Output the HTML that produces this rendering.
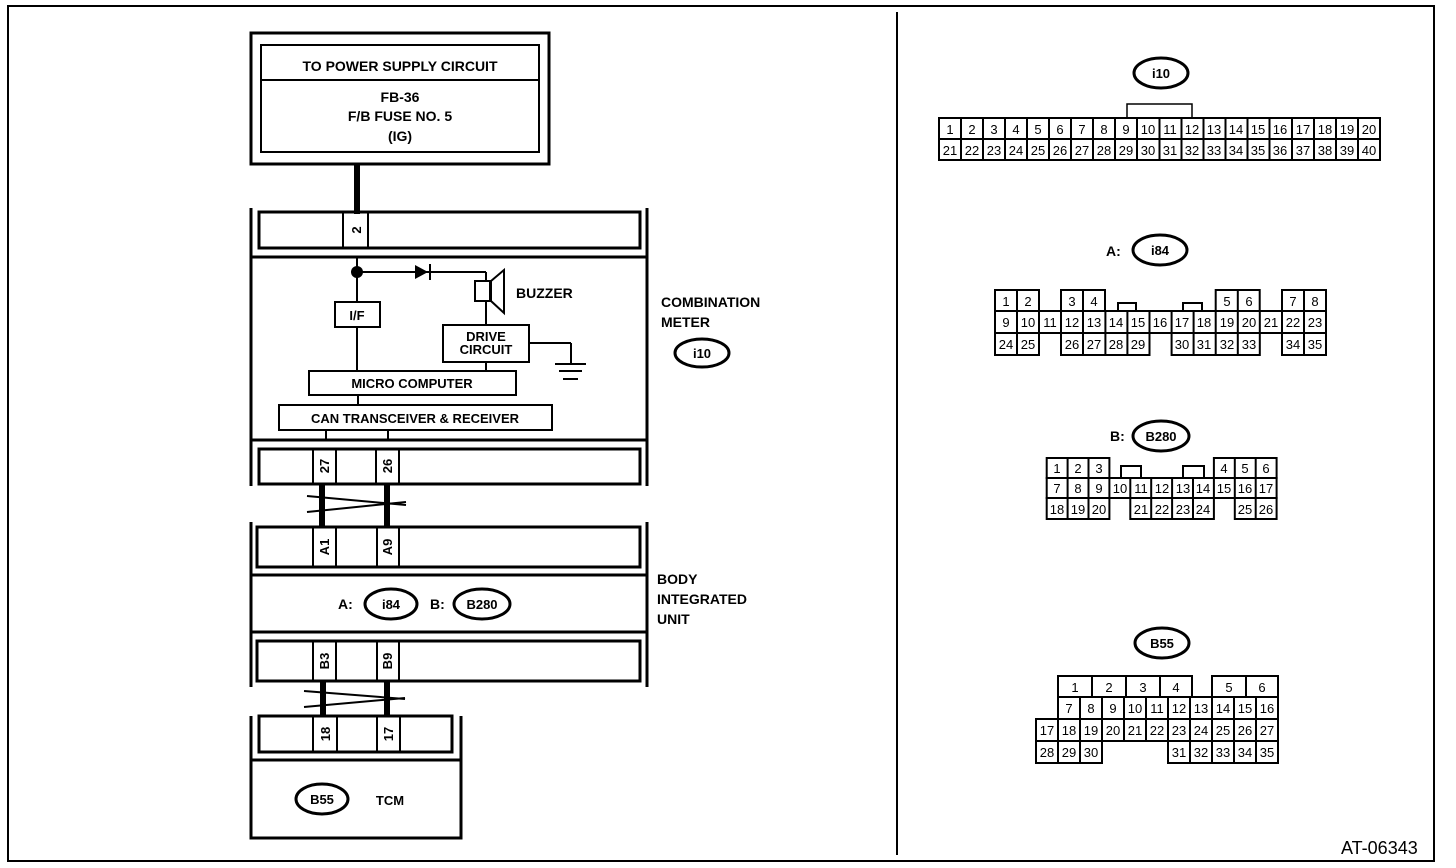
<!DOCTYPE html>
<html><head><meta charset="utf-8"><style>
html,body{margin:0;padding:0;background:#fff;}
svg{display:block;}
text{font-family:"Liberation Sans",sans-serif;fill:#000;}
.b{font-weight:bold;font-size:14px;}
.p{font-size:13px;text-anchor:middle;}
.r{font-weight:bold;font-size:13px;text-anchor:middle;}
</style></head><body>
<svg width="1456" height="868" viewBox="0 0 1456 868" xmlns="http://www.w3.org/2000/svg">
<g fill="none" stroke="#000" stroke-width="2">
<rect x="8" y="6" width="1426" height="855"/>
<line x1="897" y1="12" x2="897" y2="855"/>
<rect x="251" y="33" width="298" height="131" stroke-width="3"/>
<rect x="261" y="45" width="278" height="107"/>
<line x1="261" y1="80" x2="539" y2="80"/>
</g>
<line x1="357" y1="164" x2="357" y2="214" stroke="#000" stroke-width="6"/>
<text x="400" y="71" class="b" text-anchor="middle">TO POWER SUPPLY CIRCUIT</text>
<text x="400" y="102" class="b" text-anchor="middle">FB-36</text>
<text x="400" y="121" class="b" text-anchor="middle">F/B FUSE NO. 5</text>
<text x="400" y="141" class="b" text-anchor="middle">(IG)</text>
<g fill="none" stroke="#000" stroke-width="2">
<line x1="251" y1="208" x2="251" y2="486" stroke-width="3"/>
<line x1="647" y1="208" x2="647" y2="486" stroke-width="3"/>
<rect x="259" y="212" width="381" height="36" stroke-width="3"/>
<line x1="343" y1="212" x2="343" y2="248"/><line x1="368" y1="212" x2="368" y2="248"/>
<line x1="251" y1="257" x2="647" y2="257" stroke-width="3"/>
<line x1="357" y1="257" x2="357" y2="302"/>
<line x1="357" y1="327" x2="357" y2="371"/>
<line x1="357" y1="272" x2="486" y2="272"/>
<line x1="486" y1="272" x2="486" y2="281"/>
<line x1="486" y1="301" x2="486" y2="325"/>
<rect x="475" y="281" width="15" height="20"/>
<polygon points="491,281 504,270 504,313 491,301"/>
<line x1="430" y1="264" x2="430" y2="280"/>
<rect x="335" y="302" width="45" height="25"/>
<rect x="443" y="325" width="86" height="37"/>
<line x1="486" y1="362" x2="486" y2="371"/>
<line x1="529" y1="343" x2="571" y2="343"/>
<line x1="571" y1="343" x2="571" y2="364"/>
<line x1="555" y1="364" x2="586" y2="364"/>
<line x1="559" y1="371" x2="582" y2="371"/>
<line x1="563" y1="379" x2="578" y2="379"/>
<rect x="309" y="371" width="207" height="24"/>
<line x1="358" y1="395" x2="358" y2="405"/>
<rect x="279" y="405" width="273" height="25"/>
<line x1="326" y1="430" x2="326" y2="440"/><line x1="388" y1="430" x2="388" y2="440"/>
<line x1="251" y1="440" x2="647" y2="440" stroke-width="3"/>
<rect x="259" y="449" width="381" height="35" stroke-width="3"/>
<line x1="313" y1="449" x2="313" y2="484"/><line x1="336" y1="449" x2="336" y2="484"/>
<line x1="376" y1="449" x2="376" y2="484"/><line x1="399" y1="449" x2="399" y2="484"/>
</g>
<circle cx="357" cy="272" r="6" fill="#000"/>
<polygon points="415,265 415,279 428,272" fill="#000"/>
<text x="516" y="298" class="b">BUZZER</text>
<text x="357" y="320" class="r" font-size="14">I/F</text>
<text x="486" y="341" class="r" font-size="11">DRIVE</text>
<text x="486" y="354" class="r" font-size="11">CIRCUIT</text>
<text x="412" y="388" class="r" font-size="14">MICRO COMPUTER</text>
<text x="415" y="423" class="r" font-size="14">CAN TRANSCEIVER &amp; RECEIVER</text>
<text class="r" transform="translate(361,230) rotate(-90)">2</text>
<text class="r" transform="translate(329,466) rotate(-90)">27</text>
<text class="r" transform="translate(392,466) rotate(-90)">26</text>
<text x="661" y="307" class="b">COMBINATION</text>
<text x="661" y="327" class="b">METER</text>
<ellipse cx="702" cy="353" rx="27" ry="14" fill="none" stroke="#000" stroke-width="3"/>
<text x="702" y="358" class="r" font-size="14">i10</text>
<g stroke="#000">
<line x1="322" y1="484" x2="322" y2="528" stroke-width="6"/>
<line x1="387" y1="484" x2="387" y2="528" stroke-width="6"/>
<line x1="307" y1="496" x2="406" y2="505" stroke-width="2"/>
<line x1="307" y1="512" x2="406" y2="502" stroke-width="2"/>
</g>
<g fill="none" stroke="#000" stroke-width="2">
<line x1="251" y1="522" x2="251" y2="687" stroke-width="3"/>
<line x1="647" y1="522" x2="647" y2="687" stroke-width="3"/>
<rect x="257" y="527" width="383" height="40" stroke-width="3"/>
<line x1="313" y1="527" x2="313" y2="567"/><line x1="336" y1="527" x2="336" y2="567"/>
<line x1="377" y1="527" x2="377" y2="567"/><line x1="399" y1="527" x2="399" y2="567"/>
<line x1="251" y1="575" x2="647" y2="575" stroke-width="3"/>
<line x1="251" y1="632" x2="647" y2="632" stroke-width="3"/>
<rect x="257" y="641" width="383" height="40" stroke-width="3"/>
<line x1="313" y1="641" x2="313" y2="681"/><line x1="336" y1="641" x2="336" y2="681"/>
<line x1="377" y1="641" x2="377" y2="681"/><line x1="399" y1="641" x2="399" y2="681"/>
<ellipse cx="391" cy="604" rx="26" ry="15" stroke-width="3"/>
<ellipse cx="482" cy="604" rx="28" ry="15" stroke-width="3"/>
</g>
<text class="r" transform="translate(329,547) rotate(-90)">A1</text>
<text class="r" transform="translate(392,547) rotate(-90)">A9</text>
<text class="r" transform="translate(329,661) rotate(-90)">B3</text>
<text class="r" transform="translate(392,661) rotate(-90)">B9</text>
<text x="338" y="609" class="b">A:</text>
<text x="391" y="609" class="r" font-size="14">i84</text>
<text x="430" y="609" class="b">B:</text>
<text x="482" y="609" class="r" font-size="14">B280</text>
<text x="657" y="584" class="b">BODY</text>
<text x="657" y="604" class="b">INTEGRATED</text>
<text x="657" y="624" class="b">UNIT</text>
<g stroke="#000">
<line x1="323" y1="681" x2="323" y2="716" stroke-width="6"/>
<line x1="387" y1="681" x2="387" y2="716" stroke-width="6"/>
<line x1="304" y1="691" x2="405" y2="699" stroke-width="2"/>
<line x1="304" y1="707" x2="405" y2="698" stroke-width="2"/>
</g>
<g fill="none" stroke="#000" stroke-width="2">
<polyline points="251,716 251,838 461,838 461,716" stroke-width="3"/>
<rect x="259" y="716" width="193" height="36" stroke-width="3"/>
<line x1="313" y1="716" x2="313" y2="752"/><line x1="337" y1="716" x2="337" y2="752"/>
<line x1="377" y1="716" x2="377" y2="752"/><line x1="400" y1="716" x2="400" y2="752"/>
<line x1="251" y1="760" x2="461" y2="760" stroke-width="3"/>
<ellipse cx="322" cy="799" rx="26" ry="15" stroke-width="3"/>
</g>
<text class="r" transform="translate(330,734) rotate(-90)">18</text>
<text class="r" transform="translate(393,734) rotate(-90)">17</text>
<text x="322" y="804" class="r" font-size="14">B55</text>
<text x="390" y="805" class="r" font-size="14">TCM</text>

<ellipse cx="1161" cy="73" rx="27" ry="15" fill="none" stroke="#000" stroke-width="3"/>
<text x="1161" y="78" class="r" font-size="14">i10</text>
<g fill="none" stroke="#000" stroke-width="2">
<polyline points="1127,118 1127,104 1192,104 1192,118" stroke-width="1.5"/>
<rect x="939" y="118" width="441" height="42"/>
<line x1="939" y1="139" x2="1380" y2="139"/>
<path d="M961 118V160M983 118V160M1005 118V160M1027 118V160M1049 118V160M1071 118V160M1093 118V160M1115 118V160M1137 118V160M1159.5 118V160M1181.5 118V160M1203.5 118V160M1225.5 118V160M1247.5 118V160M1269.5 118V160M1292 118V160M1314 118V160M1336 118V160M1358 118V160"/>
</g>
<g>
<text x="950" y="134" class="p">1</text><text x="972" y="134" class="p">2</text><text x="994" y="134" class="p">3</text><text x="1016" y="134" class="p">4</text><text x="1038" y="134" class="p">5</text><text x="1060" y="134" class="p">6</text><text x="1082" y="134" class="p">7</text><text x="1104" y="134" class="p">8</text><text x="1126" y="134" class="p">9</text><text x="1148" y="134" class="p">10</text><text x="1170" y="134" class="p">11</text><text x="1192" y="134" class="p">12</text><text x="1214" y="134" class="p">13</text><text x="1236" y="134" class="p">14</text><text x="1258" y="134" class="p">15</text><text x="1280" y="134" class="p">16</text><text x="1303" y="134" class="p">17</text><text x="1325" y="134" class="p">18</text><text x="1347" y="134" class="p">19</text><text x="1369" y="134" class="p">20</text>
<text x="950" y="155" class="p">21</text><text x="972" y="155" class="p">22</text><text x="994" y="155" class="p">23</text><text x="1016" y="155" class="p">24</text><text x="1038" y="155" class="p">25</text><text x="1060" y="155" class="p">26</text><text x="1082" y="155" class="p">27</text><text x="1104" y="155" class="p">28</text><text x="1126" y="155" class="p">29</text><text x="1148" y="155" class="p">30</text><text x="1170" y="155" class="p">31</text><text x="1192" y="155" class="p">32</text><text x="1214" y="155" class="p">33</text><text x="1236" y="155" class="p">34</text><text x="1258" y="155" class="p">35</text><text x="1280" y="155" class="p">36</text><text x="1303" y="155" class="p">37</text><text x="1325" y="155" class="p">38</text><text x="1347" y="155" class="p">39</text><text x="1369" y="155" class="p">40</text>
</g>

<text x="1106" y="256" class="b">A:</text>
<ellipse cx="1160" cy="250" rx="27" ry="15" fill="none" stroke="#000" stroke-width="3"/>
<text x="1160" y="255" class="r" font-size="14">i84</text>
<g fill="none" stroke="#000" stroke-width="2">
<rect x="995" y="290" width="44" height="21"/>
<line x1="1017" y1="290" x2="1017" y2="311"/>
<rect x="1061" y="290" width="44" height="21"/>
<line x1="1083" y1="290" x2="1083" y2="311"/>
<rect x="1215.7" y="290" width="44" height="21"/>
<line x1="1237.8" y1="290" x2="1237.8" y2="311"/>
<rect x="1282" y="290" width="44" height="21"/>
<line x1="1304" y1="290" x2="1304" y2="311"/>
<rect x="1118" y="303" width="18" height="8"/>
<rect x="1183" y="303" width="19" height="8"/>
<rect x="995" y="311" width="331" height="22"/>
<path d="M1017 311V333M1039 311V333M1061 311V333M1083 311V333M1105.4 311V333M1127.4 311V333M1149.5 311V333M1171.6 311V333M1193.6 311V333M1215.7 311V333M1237.8 311V333M1259.8 311V333M1282 311V333M1304 311V333"/>
<rect x="995" y="333" width="44" height="22"/><line x1="1017" y1="333" x2="1017" y2="355"/>
<rect x="1061" y="333" width="88.5" height="22"/><path d="M1083 333V355M1105.4 333V355M1127.4 333V355"/>
<rect x="1171.6" y="333" width="88.2" height="22"/><path d="M1193.6 333V355M1215.7 333V355M1237.8 333V355"/>
<rect x="1282" y="333" width="44" height="22"/><line x1="1304" y1="333" x2="1304" y2="355"/>
</g>
<g>
<text x="1006" y="306" class="p">1</text><text x="1028" y="306" class="p">2</text><text x="1072" y="306" class="p">3</text><text x="1094" y="306" class="p">4</text><text x="1227" y="306" class="p">5</text><text x="1249" y="306" class="p">6</text><text x="1293" y="306" class="p">7</text><text x="1315" y="306" class="p">8</text>
<text x="1006" y="327" class="p">9</text><text x="1028" y="327" class="p">10</text><text x="1050" y="327" class="p">11</text><text x="1072" y="327" class="p">12</text><text x="1094" y="327" class="p">13</text><text x="1116" y="327" class="p">14</text><text x="1138" y="327" class="p">15</text><text x="1160" y="327" class="p">16</text><text x="1182" y="327" class="p">17</text><text x="1204" y="327" class="p">18</text><text x="1227" y="327" class="p">19</text><text x="1249" y="327" class="p">20</text><text x="1271" y="327" class="p">21</text><text x="1293" y="327" class="p">22</text><text x="1315" y="327" class="p">23</text>
<text x="1006" y="349" class="p">24</text><text x="1028" y="349" class="p">25</text><text x="1072" y="349" class="p">26</text><text x="1094" y="349" class="p">27</text><text x="1116" y="349" class="p">28</text><text x="1138" y="349" class="p">29</text><text x="1182" y="349" class="p">30</text><text x="1204" y="349" class="p">31</text><text x="1227" y="349" class="p">32</text><text x="1249" y="349" class="p">33</text><text x="1293" y="349" class="p">34</text><text x="1315" y="349" class="p">35</text>
</g>

<text x="1110" y="441" class="b">B:</text>
<ellipse cx="1161" cy="436" rx="28" ry="15" fill="none" stroke="#000" stroke-width="3"/>
<text x="1161" y="441" class="r" font-size="14">B280</text>
<g fill="none" stroke="#000" stroke-width="2">
<rect x="1046.7" y="458" width="62.7" height="20"/><path d="M1067.6 458V478M1088.5 458V478"/>
<rect x="1213.9" y="458" width="62.7" height="20"/><path d="M1234.8 458V478M1255.7 458V478"/>
<rect x="1121" y="466" width="20" height="12"/>
<rect x="1183" y="466" width="21" height="12"/>
<rect x="1046.7" y="478" width="229.9" height="20"/>
<path d="M1067.6 478V498M1088.5 478V498M1109.4 478V498M1130.3 478V498M1151.2 478V498M1172.1 478V498M1193 478V498M1213.9 478V498M1234.8 478V498M1255.7 478V498"/>
<rect x="1046.7" y="498" width="62.7" height="21"/><path d="M1067.6 498V519M1088.5 498V519"/>
<rect x="1130.3" y="498" width="83.6" height="21"/><path d="M1151.2 498V519M1172.1 498V519M1193 498V519"/>
<rect x="1234.8" y="498" width="41.8" height="21"/><path d="M1255.7 498V519"/>
</g>
<g>
<text x="1057" y="473" class="p">1</text><text x="1078" y="473" class="p">2</text><text x="1099" y="473" class="p">3</text><text x="1224" y="473" class="p">4</text><text x="1245" y="473" class="p">5</text><text x="1266" y="473" class="p">6</text>
<text x="1057" y="493" class="p">7</text><text x="1078" y="493" class="p">8</text><text x="1099" y="493" class="p">9</text><text x="1120" y="493" class="p">10</text><text x="1141" y="493" class="p">11</text><text x="1162" y="493" class="p">12</text><text x="1183" y="493" class="p">13</text><text x="1203" y="493" class="p">14</text><text x="1224" y="493" class="p">15</text><text x="1245" y="493" class="p">16</text><text x="1266" y="493" class="p">17</text>
<text x="1057" y="514" class="p">18</text><text x="1078" y="514" class="p">19</text><text x="1099" y="514" class="p">20</text><text x="1141" y="514" class="p">21</text><text x="1162" y="514" class="p">22</text><text x="1183" y="514" class="p">23</text><text x="1203" y="514" class="p">24</text><text x="1245" y="514" class="p">25</text><text x="1266" y="514" class="p">26</text>
</g>

<ellipse cx="1162" cy="643" rx="27" ry="15" fill="none" stroke="#000" stroke-width="3"/>
<text x="1162" y="648" class="r" font-size="14">B55</text>
<g fill="none" stroke="#000" stroke-width="2">
<rect x="1058" y="676" width="134" height="21"/><path d="M1092 676V697M1126 676V697M1160 676V697"/>
<rect x="1212" y="676" width="66" height="21"/><path d="M1246 676V697"/>
<rect x="1058" y="697" width="220" height="22"/>
<rect x="1036" y="719" width="242" height="22"/>
<path d="M1080 697V741M1102 697V741M1124 697V741M1146 697V741M1168 697V741M1190 697V741M1212 697V741M1234 697V741M1256 697V741M1058 719V741"/>
<rect x="1036" y="741" width="66" height="22"/><path d="M1058 741V763M1080 741V763"/>
<rect x="1168" y="741" width="110" height="22"/><path d="M1190 741V763M1212 741V763M1234 741V763M1256 741V763"/>
</g>
<g>
<text x="1075" y="692" class="p">1</text><text x="1109" y="692" class="p">2</text><text x="1143" y="692" class="p">3</text><text x="1176" y="692" class="p">4</text><text x="1229" y="692" class="p">5</text><text x="1262" y="692" class="p">6</text>
<text x="1069" y="713" class="p">7</text><text x="1091" y="713" class="p">8</text><text x="1113" y="713" class="p">9</text><text x="1135" y="713" class="p">10</text><text x="1157" y="713" class="p">11</text><text x="1179" y="713" class="p">12</text><text x="1201" y="713" class="p">13</text><text x="1223" y="713" class="p">14</text><text x="1245" y="713" class="p">15</text><text x="1267" y="713" class="p">16</text>
<text x="1047" y="735" class="p">17</text><text x="1069" y="735" class="p">18</text><text x="1091" y="735" class="p">19</text><text x="1113" y="735" class="p">20</text><text x="1135" y="735" class="p">21</text><text x="1157" y="735" class="p">22</text><text x="1179" y="735" class="p">23</text><text x="1201" y="735" class="p">24</text><text x="1223" y="735" class="p">25</text><text x="1245" y="735" class="p">26</text><text x="1267" y="735" class="p">27</text>
<text x="1047" y="757" class="p">28</text><text x="1069" y="757" class="p">29</text><text x="1091" y="757" class="p">30</text><text x="1179" y="757" class="p">31</text><text x="1201" y="757" class="p">32</text><text x="1223" y="757" class="p">33</text><text x="1245" y="757" class="p">34</text><text x="1267" y="757" class="p">35</text>
</g>
<text x="1341" y="854" font-size="18">AT-06343</text>
</svg>
</body></html>
